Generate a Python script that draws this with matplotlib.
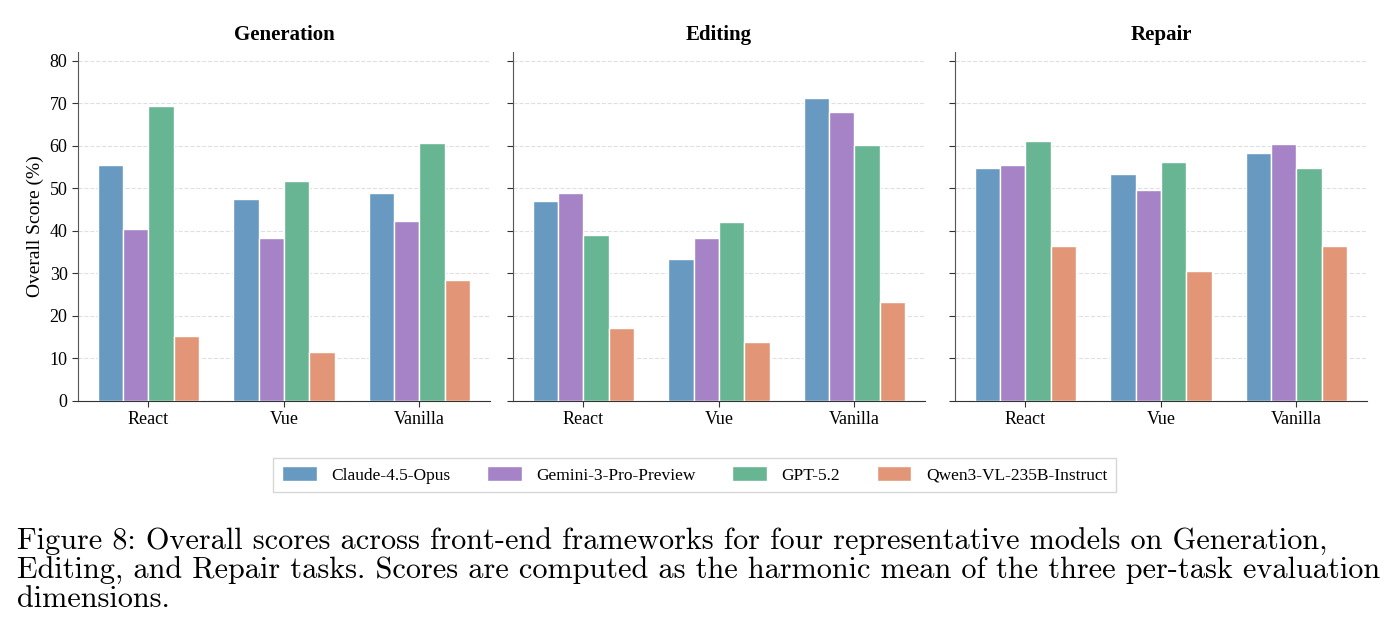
import numpy as np
import matplotlib
matplotlib.use("Agg")
import matplotlib.pyplot as plt

# Datos
tasks = ["Generation", "Editing", "Repair"]
frameworks = ["React", "Vue", "Vanilla"]
models = ["Claude-4.5-Opus", "Gemini-3-Pro-Preview", "GPT-5.2", "Qwen3-VL-235B-Instruct"]
colors = ["#6899c0", "#a583c6", "#67b592", "#e39677"]

generation = [
    [55.4, 47.5, 48.8],   # Claude
    [40.5, 38.4, 42.2],   # Gemini
    [69.2, 51.8, 60.7],   # GPT
    [15.2, 11.6, 28.5],   # Qwen
]
editing = [
    [47.1, 33.3, 71.1],
    [48.8, 38.2, 68.0],
    [39.0, 42.0, 60.1],
    [17.2, 13.8, 23.2],
]
repair = [
    [54.7, 53.3, 58.2],
    [55.4, 49.5, 60.4],
    [61.1, 56.2, 54.7],
    [36.4, 30.6, 36.5],
]
scores = [generation, editing, repair]

caption = ("Figure 8: Overall scores across front-end frameworks for four representative models on Generation,\n"
           "Editing, and Repair tasks. Scores are computed as the harmonic mean of the three per-task evaluation\n"
           "dimensions.")

plt.rcParams["font.family"] = ["Liberation Serif", "DejaVu Serif"]

fig = plt.figure(figsize=(13.95, 6.42), dpi=100)
lefts = [0.0559, 0.3677, 0.6846]
bottom, height, width = 0.3754, 0.5436, 0.2953

x = np.arange(len(frameworks))
bw = 0.1875
axes = []
for i, task in enumerate(tasks):
    ax = fig.add_axes([lefts[i], bottom, width, height])
    axes.append(ax)
    for j, model in enumerate(models):
        ax.bar(x + (j - 1.5) * bw, scores[i][j], width=bw, color=colors[j],
               edgecolor="white", linewidth=1.0, label=model, zorder=3)
    ax.set_xlim(-0.52, 2.52)
    ax.set_ylim(0, 82)
    ax.set_yticks(range(0, 81, 10))
    ax.set_xticks(x)
    ax.set_xticklabels(frameworks, fontsize=13)
    ax.set_title(task, fontsize=15, fontweight="bold", pad=9)
    ax.grid(axis="y", linestyle="--", color="#e0e0e0", linewidth=0.8, zorder=0)
    ax.spines["top"].set_visible(False)
    ax.spines["right"].set_visible(False)
    ax.spines["left"].set_color("#555555")
    ax.spines["bottom"].set_color("#333333")
    ax.tick_params(axis="both", labelsize=13, color="#333333", length=4)
    if i == 0:
        ax.set_ylabel("Overall Score (%)", fontsize=14)
    else:
        ax.tick_params(axis="y", labelleft=False)

handles, labels = axes[0].get_legend_handles_labels()
fig.legend(handles, labels, loc="center", bbox_to_anchor=(0.498, 0.26), ncol=4,
           fontsize=12.5, frameon=True, fancybox=False, edgecolor="#cccccc",
           handlelength=2.0, handleheight=0.9, handletextpad=0.85,
           columnspacing=2.1, borderpad=0.5)

fig.text(0.012, 0.178, caption, fontsize=21.8, family=["cmr10", "DejaVu Serif"],
         va="top", ha="left", linespacing=1.05)

plt.savefig("out.png", dpi=100)
